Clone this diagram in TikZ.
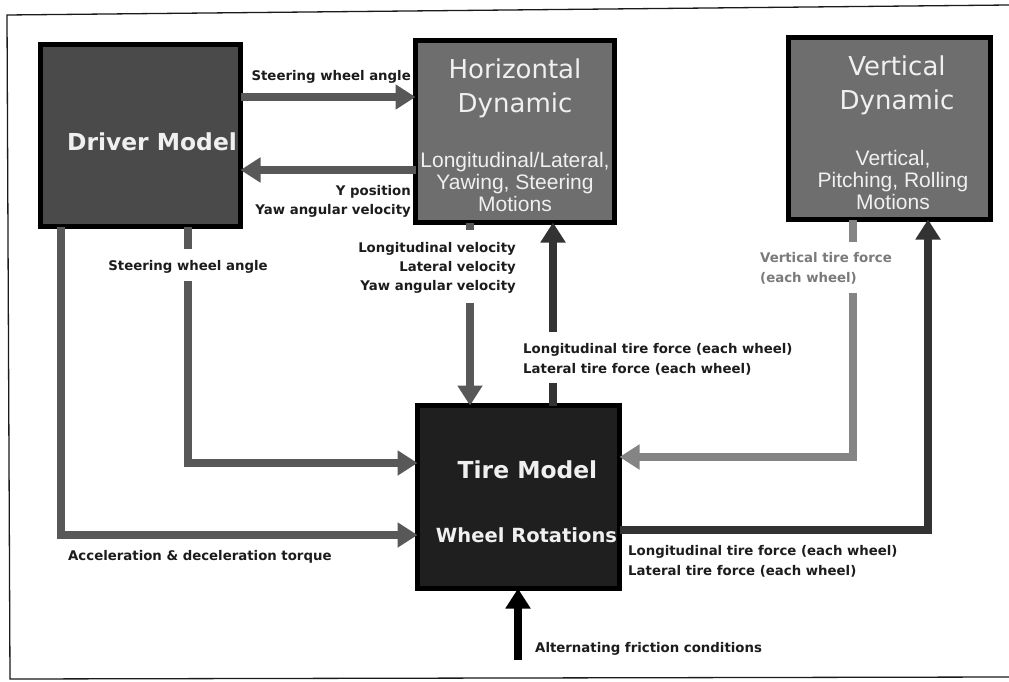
\documentclass[tikz,border=0pt]{standalone}
\usepackage{fontspec}
\setmainfont{DejaVu Sans}
\newfontfamily\arialf{Liberation Sans}
\usetikzlibrary{arrows.meta}
\definecolor{frameC}{HTML}{1A1A1A}
\definecolor{driverC}{HTML}{4A4A4A}
\definecolor{dynC}{HTML}{6E6E6E}
\definecolor{tireC}{HTML}{1F1F1F}
\definecolor{arrC}{HTML}{585858}
\definecolor{darkArrC}{HTML}{333333}
\definecolor{lightArrC}{HTML}{848484}
\definecolor{labC}{HTML}{1C1C1C}
\definecolor{grayLabC}{HTML}{7A7A7A}
\definecolor{titleC}{HTML}{F0F0F0}
\begin{document}
\begin{tikzpicture}[x=1pt,y=-1pt,
  box/.style 2 args={draw=black,line width=5pt,minimum width=#1,minimum height=#2,inner sep=0pt,outer sep=0pt},
  flow/.style={line width=8pt,draw=arrC,line join=miter},
  tip/.style={-{Triangle[width=24pt,length=20pt]}},
  lab/.style={font=\fontsize{13.3}{19}\selectfont\bfseries,text=labC,inner sep=0pt},
  bigttl/.style={font=\fontsize{26}{34}\selectfont,text=titleC,align=center,inner sep=0pt},
  subttl/.style={font=\arialf\fontsize{21}{21.8}\selectfont,text=titleC,align=center,inner sep=0pt},
  boldttl/.style={font=\fontsize{23.4}{28}\selectfont\bfseries,text=titleC,inner sep=0pt}]
\useasboundingbox (0,0) rectangle (1009,682);
\fill[white] (0,0) rectangle (1009,682);
% frame
\draw[frameC,line width=1.3pt] (1009,5) -- (7,15) -- (10,679) -- (1009,677);

% boxes
\node[box={200pt}{182pt},fill=driverC] (dm) at (140.5,135.5) {};
\node[box={199pt}{182pt},fill=dynC] (hd) at (515,131.5) {};
\node[box={202pt}{182pt},fill=dynC] (vd) at (889.5,128.5) {};
\node[box={202pt}{183pt},fill=tireC] (tm) at (518.5,497) {};

% box texts
\node[boldttl] (dmT) at (152,142) {Driver Model};
\node[bigttl] (hdT) at (515,88) {Horizontal\\Dynamic};
\node[subttl] (hdS) at (515,182) {Longitudinal/Lateral,\\Yawing, Steering\\Motions};
\node[bigttl] (vdT) at (897,85) {Vertical\\Dynamic};
\node[subttl] (vdS) at (893,180) {Vertical,\\Pitching, Rolling\\Motions};
\node[boldttl] (tmT) at (527.5,470) {Tire Model};
\node[boldttl,font=\fontsize{19.5}{24}\selectfont\bfseries] (tmS) at (526.5,535) {Wheel Rotations};

% labels
\node[lab,anchor=mid east] (l1) at (411,78) {Steering wheel angle};
\node[lab,anchor=mid east] (l2) at (411,193) {Y position};
\node[lab,anchor=mid east] (l3) at (411,212) {Yaw angular velocity};
\node[lab] (l4) at (188,267) {Steering wheel angle};
\node[lab,anchor=mid west] (l5) at (68,558) {Acceleration \& deceleration torque};
\node[lab,anchor=mid east] (l6) at (516,250) {Longitudinal velocity};
\node[lab,anchor=mid east] (l7) at (516,269) {Lateral velocity};
\node[lab,anchor=mid east] (l8) at (516,288) {Yaw angular velocity};
\node[lab,anchor=mid west] (l9) at (523,351) {Longitudinal tire force (each wheel)};
\node[lab,anchor=mid west] (l10) at (523,371) {Lateral tire force (each wheel)};
\node[lab,anchor=mid west,text=grayLabC] (l11) at (760,260) {Vertical tire force};
\node[lab,anchor=mid west,text=grayLabC] (l12) at (760,280) {(each wheel)};
\node[lab,anchor=mid west] (l13) at (628,553) {Longitudinal tire force (each wheel)};
\node[lab,anchor=mid west] (l14) at (628,573) {Lateral tire force (each wheel)};
\node[lab,anchor=mid west] (l15) at (535,650) {Alternating friction conditions};

% connectors
\draw[flow,tip] (dm.east |- 0,97) -- (hd.west |- 0,97);
\draw[flow,tip] (hd.west |- 0,170) -- (dm.east |- 0,170);

\draw[flow] (dm.south -| 188,0) -- (188,249);
\draw[flow,tip] (188,281) -- (188,463) -- (tm.west |- 0,463);
\draw[flow,tip] (dm.south -| 61,0) -- (61,535) -- (tm.west |- 0,535);

\draw[flow] (hd.south -| 470,0) -- (470,230);
\draw[flow,tip] (470,303) -- (tm.north -| 470,0);

\draw[flow,draw=darkArrC] (tm.north -| 553,0) -- (553,383);
\draw[flow,draw=darkArrC,tip] (553,332) -- (hd.south -| 553,0);

\draw[flow,draw=lightArrC] (vd.south -| 853,0) -- (853,242);
\draw[flow,draw=lightArrC,tip] (853,293) -- (853,457) -- (tm.east |- 0,457);

\draw[flow,draw=darkArrC,tip] (tm.east |- 0,530) -- (928,530) -- (vd.south -| 928,0);

\coordinate (fr) at (518,660);
\draw[flow,draw=black,tip] (fr) -- (tm.south -| fr);
\end{tikzpicture}
\end{document}
